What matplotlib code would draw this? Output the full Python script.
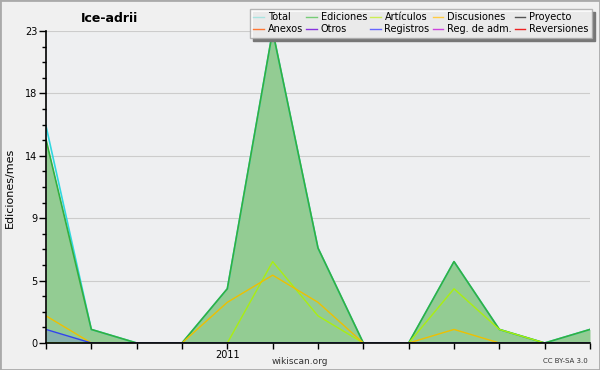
import matplotlib.pyplot as plt
from matplotlib.lines import Line2D
from matplotlib.patches import Rectangle

# Monthly edits, Sep 2010 - Sep 2011
months = ['2010-09', '2010-10', '2010-11', '2010-12', '2011-01', '2011-02', '2011-03',
          '2011-04', '2011-05', '2011-06', '2011-07', '2011-08', '2011-09']
total = [16, 1, 0, 0, 4, 23, 7, 0, 0, 6, 1, 0, 1]
ediciones = [15, 1, 0, 0, 4, 23, 7, 0, 0, 6, 1, 0, 1]
articulos = [0, 0, 0, 0, 0, 6, 2, 0, 0, 4, 1, 0, 0]
discusiones = [2, 0, 0, 0, 3, 5, 3, 0, 0, 1, 0, 0, 0]
registros = [1, 0, 0, 0, 0, 0, 0, 0, 0, 0, 0, 0, 0]

ytick_vals = [0, 4.6, 9.2, 13.8, 18.4, 23]
ytick_labels = ['0', '5', '9', '14', '18', '23']
xtick_labels = ['', '', '', '', '2011', '', '', '', '', '', '', '', '']

legend_names = ['Total', 'Ediciones', 'Artículos', 'Discusiones', 'Proyecto',
                'Anexos', 'Otros', 'Registros', 'Reg. de adm.', 'Reversiones']
legend_colors = ['#a8e4e0', '#77cc77', '#ccee55', '#ffcc44', '#555555',
                 '#ff7733', '#8833dd', '#6666ff', '#cc44dd', '#ee2222']

fig = plt.figure(figsize=(6, 3.7), dpi=100, facecolor='#f0f0f0')
fig.patches.append(Rectangle((0, 0), 1, 1, transform=fig.transFigure, fill=False,
                             edgecolor='#aaaaaa', linewidth=2))
ax = fig.add_axes([46 / 600, 27 / 370, 544 / 600, 312 / 370])
ax.set_facecolor('#eeeff1')

x = list(range(len(months)))

ax.fill_between(x, ediciones, color='#93cc93', linewidth=0, zorder=2)
ax.fill_between(x, registros, color='#6666ff', alpha=0.25, linewidth=0, zorder=2)
ax.plot(x, total, color='#30d8e0', linewidth=1.2, zorder=3)
ax.plot(x, ediciones, color='#33b040', linewidth=1.2, zorder=4)
ax.plot(x, articulos, color='#aaee11', linewidth=1.0, zorder=5)
ax.plot(x, discusiones, color='#eec000', linewidth=1.0, zorder=5)
ax.plot(x, registros, color='#3344ee', linewidth=1.0, zorder=5)

ax.set_xlim(0, 12)
ax.set_ylim(0, 23)
ax.set_yticks(ytick_vals)
ax.set_yticklabels(ytick_labels)
ax.set_yticks([i * 1.15 for i in range(21)], minor=True)
ax.set_xticks(x)
ax.set_xticklabels(xtick_labels)
ax.tick_params(axis='y', which='major', length=5, width=1, labelsize=7, pad=1)
ax.tick_params(axis='y', which='minor', length=3, width=1)
ax.tick_params(axis='x', length=4, width=1, labelsize=7, pad=1)
ax.grid(axis='y', which='major', color='#cccccc', linewidth=0.8, zorder=1)
ax.set_axisbelow(True)
for s in ['top', 'right']:
    ax.spines[s].set_visible(False)
for s in ['left', 'bottom']:
    ax.spines[s].set_linewidth(1.2)
    ax.spines[s].set_zorder(10)

fig.text(10 / 600, 1 - 188 / 370, 'Ediciones/mes', fontsize=8, rotation=90, ha='center', va='center')
fig.text(110 / 600, 1 - 18 / 370, 'Ice-adrii', fontsize=9, fontweight='bold', ha='center', va='center')
fig.text(0.5, 1 - 361 / 370, 'wikiscan.org', fontsize=6.5, ha='center', va='center', color='#333333')
fig.text(588 / 600, 1 - 361 / 370, 'CC BY-SA 3.0', fontsize=5, ha='right', va='center', color='#333333')

# legend fills column-wise, so interleave the two rows
order = [0, 5, 1, 6, 2, 7, 3, 8, 4, 9]
handles = [Line2D([], [], color=legend_colors[i], linewidth=1) for i in order]
labels = [legend_names[i] for i in order]
leg = fig.legend(handles, labels, ncol=5, fontsize=7, loc='upper right',
                 bbox_to_anchor=(592 / 600, 1 - 9 / 370), frameon=True, fancybox=False,
                 shadow={'color': '#777777', 'alpha': 1}, handlelength=1.1, handletextpad=0.4,
                 columnspacing=0.3, labelspacing=0.2, borderpad=0.35, borderaxespad=0)
leg.get_frame().set_edgecolor('#aaaaaa')
leg.get_frame().set_alpha(0.85)

fig.savefig('out.png', dpi=100, facecolor=fig.get_facecolor())
